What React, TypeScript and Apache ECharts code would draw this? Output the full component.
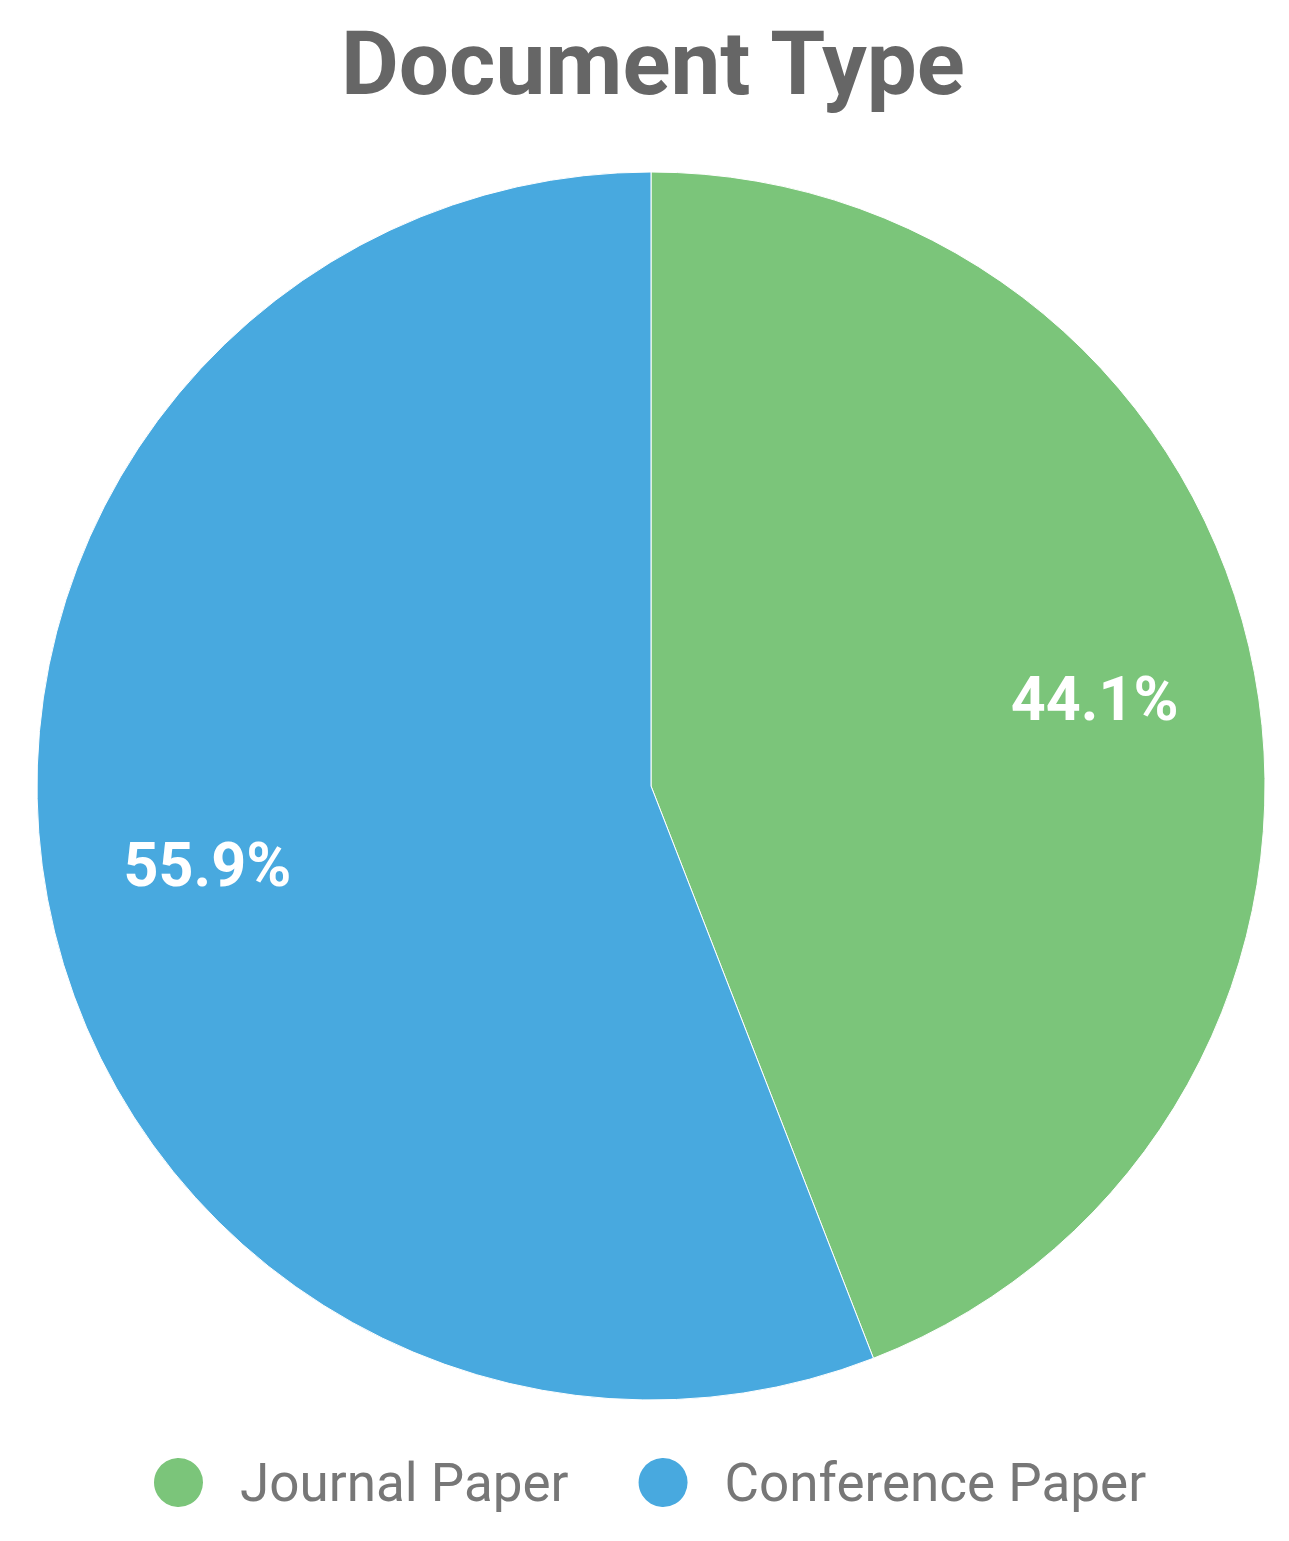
import React, { useEffect, useRef } from "react";
import * as echarts from "echarts";

const categories = ["Journal Paper", "Conference Paper"];
const values = [44.1, 55.9];
const colors = ["#7BC57A", "#48A9DF"];
const titleText = "Document Type";

const W = 1289;
const H = 1541;
const CX = 651;
const CY = 786;
const R = 614;
const LABEL_RATIO = 0.728;

export default function App() {
  const ref = useRef<HTMLDivElement>(null);
  useEffect(() => {
    if (!ref.current) return;
    const chart = echarts.init(ref.current, undefined, { renderer: "svg" });
    chart.setOption({
      animation: false,
      backgroundColor: "#ffffff",
      color: colors,
      title: {
        text: titleText,
        left: 336,
        top: 14,
        textStyle: {
          fontFamily: "Roboto",
          fontWeight: "bold",
          fontSize: 89,
          color: "#666666",
        },
      },
      legend: {
        bottom: 27,
        left: 147,
        icon: "circle",
        itemWidth: 51,
        itemHeight: 51,
        itemGap: 68,
        data: categories,
        textStyle: {
          fontFamily: "Roboto",
          fontSize: 53,
          color: "#777777",
          padding: [0, 0, 0, 31],
        },
      },
      series: [
        {
          type: "pie",
          center: [CX, CY],
          radius: [0, R],
          startAngle: 90,
          clockwise: true,
          silent: true,
          itemStyle: { borderColor: "#ffffff", borderWidth: 1 },
          label: {
            show: true,
            position: "inside",
            formatter: (p: any) => p.value.toFixed(1) + "%",
            fontFamily: "Roboto",
            fontWeight: "bold",
            fontSize: 61,
            color: "#ffffff",
          },
          labelLine: { show: false },
          labelLayout: (params: any) => {
            const lr = params.labelRect;
            const lx = lr.x + lr.width / 2;
            const ly = lr.y + lr.height / 2;
            const k = (LABEL_RATIO - 0.5) / 0.5;
            return { dx: (lx - CX) * k, dy: (ly - CY) * k - 4 };
          },
          data: categories.map((name, i) => ({ name, value: values[i] })),
        },
      ],
    });
    return () => chart.dispose();
  }, []);
  return (
    <div
      ref={ref}
      style={{ position: "absolute", left: 0, top: 0, width: W, height: H }}
    />
  );
}
